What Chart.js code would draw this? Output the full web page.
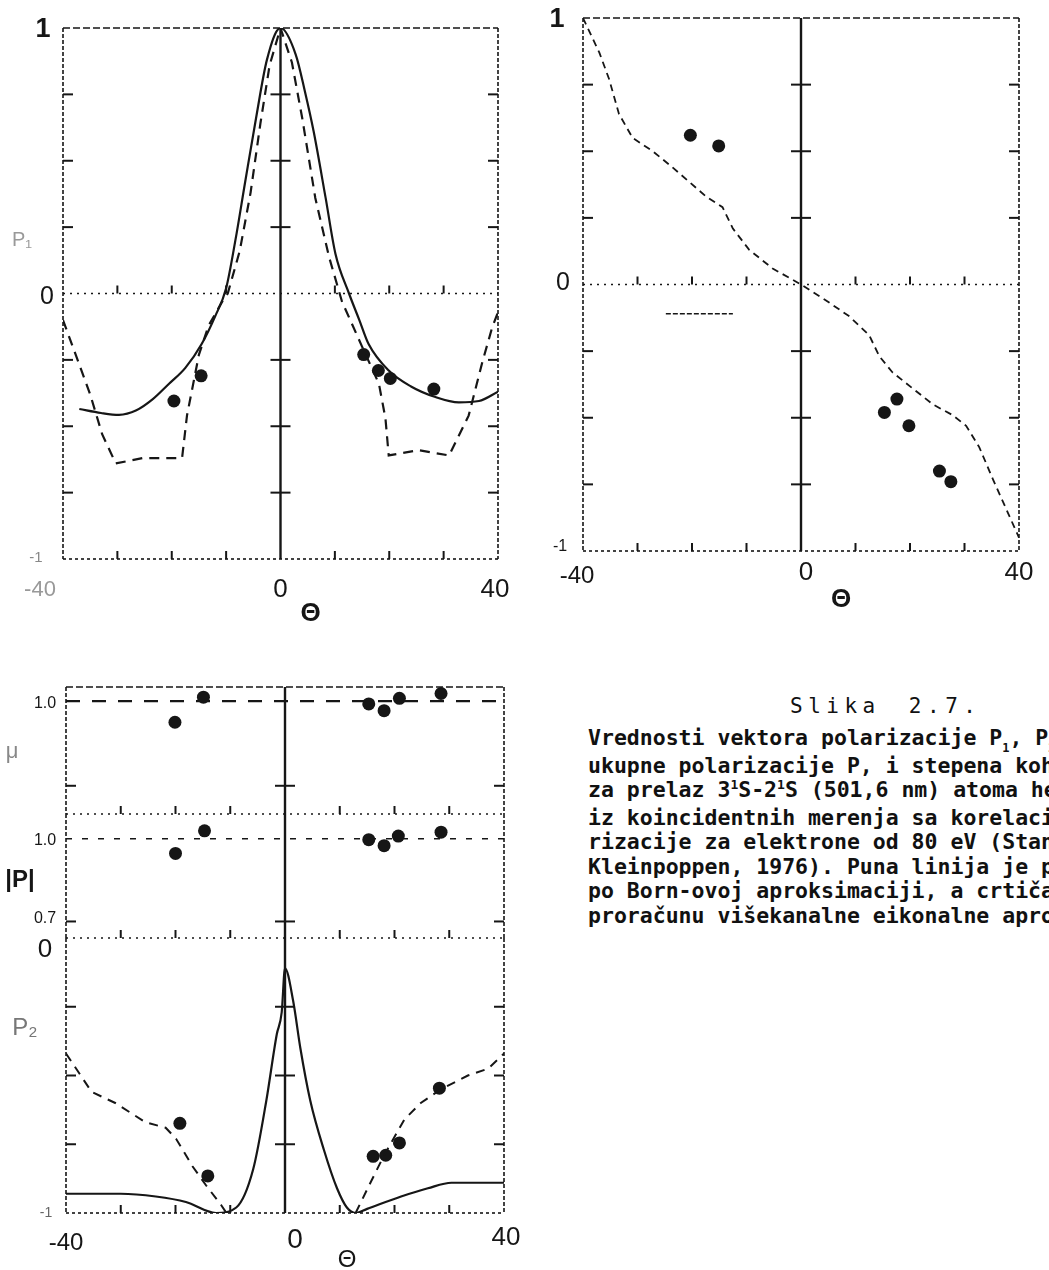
<!DOCTYPE html>
<html>
<head>
<meta charset="utf-8">
<script src="https://cdn.jsdelivr.net/npm/chart.js@4.4.0/dist/chart.umd.min.js"></script>
<style>
  body { margin: 0; background: #fff; width: 1049px; height: 1270px; overflow: hidden; position: relative; }
  canvas { position: absolute; }
  .caption { position: absolute; left: 588px; top: 726px; width: 461px; overflow: hidden;
    font: bold 21.5px "DejaVu Sans Mono", "Liberation Mono", monospace; line-height: 24.5px; color: #111; }
  .caption div { white-space: nowrap; }
  .caption sub { font-size: 12px; vertical-align: 0; position: relative; top: 7px; }
  .caption sup { font-size: 13px; vertical-align: 0; position: relative; top: -8px; }
  .slika { position: absolute; left: 790px; top: 694px; white-space: nowrap;
    font: 21px "DejaVu Sans Mono", "Liberation Mono", monospace; letter-spacing: 5.5px; word-spacing: 10px; color: #111; }
</style>
</head>
<body>
<canvas id="p1" width="530" height="640" style="left:0;top:0"></canvas>
<canvas id="p2" width="519" height="640" style="left:530px;top:0"></canvas>
<canvas id="p3mu" width="530" height="610" style="left:0;top:660px"></canvas>
<canvas id="p3abs" width="530" height="610" style="left:0;top:660px"></canvas>
<canvas id="p3p2" width="530" height="610" style="left:0;top:660px"></canvas>

<div class="slika">Slika 2.7.</div>
<div class="caption">
  <div>Vrednosti vektora polarizacije P<sub>1</sub>, P<sub>2</sub>,</div>
  <div>ukupne polarizacije P, i stepena koherencije</div>
  <div>za prelaz 3<sup>1</sup>S-2<sup>1</sup>S (501,6 nm) atoma helijuma</div>
  <div>iz koincidentnih merenja sa korelacijom pola-</div>
  <div>rizacije za elektrone od 80 eV (Standage i</div>
  <div>Kleinpoppen, 1976). Puna linija je proračun</div>
  <div>po Born-ovoj aproksimaciji, a crtičasta po</div>
  <div>proračunu višekanalne eikonalne aproksimacije.</div>
</div>

<script>
// values (theta in degrees)

// P1 panel, top left
const p1BornTheta = [-37, -33, -29.7, -26.5, -23.6, -20.5, -17.5, -14.5, -12, -10, -8.3, -6.5, -4.5, -2.5, 0,
                     2.8, 4.5, 6.1, 8.3, 10.1, 12.6, 14.5, 16.2, 19.9, 24, 28.5, 32.8, 36.5, 40];
const p1BornValues = [-0.435, -0.45, -0.457, -0.44, -0.40, -0.34, -0.28, -0.19, -0.085, 0.02, 0.2, 0.42, 0.66, 0.88, 1.0,
                      0.9, 0.76, 0.61, 0.36, 0.15, 0.0, -0.1, -0.19, -0.29, -0.35, -0.39, -0.41, -0.405, -0.37];
const p1EikTheta = [-40, -37.5, -35, -32.8, -30.3, -25.4, -18.1, -17.2, -15, -13.2, -10.7, -9.7, -7.5, -5.5, -3.7, -2, 0,
                    2.1, 4, 6.4, 8.9, 11.3, 15, 18.1, 19.3, 19.9, 25.4, 31, 34.6, 37.1, 38.9, 40];
const p1EikValues = [-0.10, -0.24, -0.38, -0.53, -0.64, -0.62, -0.62, -0.46, -0.23, -0.12, -0.03, 0.0, 0.16, 0.38, 0.64, 0.86, 1.0,
                     0.87, 0.66, 0.36, 0.14, -0.03, -0.2, -0.34, -0.47, -0.61, -0.59, -0.61, -0.46, -0.26, -0.13, -0.07];
const p1ExpTheta = [-19.6, -14.6, 15.3, 18, 20.2, 28.2];
const p1ExpValues = [-0.405, -0.31, -0.23, -0.29, -0.32, -0.36];

// P3 panel, top right
const p3EikTheta = [-40, -37, -35.2, -33.4, -30.9, -27.2, -23.6, -20.5, -17.4, -14.4, -12.5, -9.5, -5.2, 0,
                    4.6, 8.9, 12.5, 14.4, 16.8, 20.5, 24.2, 27.8, 30.3, 32.7, 35.2, 37.6, 40];
const p3EikValues = [1.0, 0.87, 0.77, 0.64, 0.55, 0.50, 0.44, 0.385, 0.33, 0.29, 0.21, 0.13, 0.06, 0.0,
                     -0.06, -0.12, -0.19, -0.27, -0.33, -0.39, -0.45, -0.49, -0.53, -0.61, -0.73, -0.84, -0.95];
const p3ExpTheta = [-20.3, -15.1, 15.3, 17.6, 19.8, 25.4, 27.5];
const p3ExpValues = [0.56, 0.52, -0.48, -0.43, -0.53, -0.70, -0.74];
const p3MarkTheta = [-24.8, -12.5];
const p3MarkValues = [-0.11, -0.11];

// bottom panel: mu, |P| and P2
const muTheoryTheta = [-40, 40];
const muTheoryValues = [1.0, 1.0];
const muExpTheta = [-20.1, -14.9, 15.3, 18.1, 20.9, 28.5];
const muExpValues = [0.925, 1.014, 0.99, 0.966, 1.01, 1.027];

const absPTheoryTheta = [-40, 40];
const absPTheoryValues = [1.0, 1.0];
const absPExpTheta = [-20, -14.7, 15.3, 18.1, 20.7, 28.5];
const absPExpValues = [0.947, 1.029, 0.997, 0.975, 1.01, 1.024];

const p2BornTheta = [-40, -30, -23.6, -18.1, -12.6, -8.9, -5.8, -3.4, -1.5, -0.6, 0, 1.5, 2.8, 4.6, 7.1, 9.5, 11.3, 12.9,
                     15, 21.2, 26.1, 30.4, 35, 40];
const p2BornValues = [-0.93, -0.93, -0.94, -0.96, -1.0, -0.98, -0.84, -0.59, -0.35, -0.27, -0.11, -0.23, -0.40, -0.59, -0.77, -0.91, -0.98, -1.0,
                      -0.985, -0.94, -0.91, -0.89, -0.89, -0.89];
const p2EikTheta = [-40, -35.3, -31, -25.5, -21.8, -19.9, -16.9, -14.4, -11.7, -10.7, 1,
                    12.9, 15.6, 18.1, 21.8, 24.8, 28.5, 33.4, 37.1, 40];
const p2EikValues = [-0.42, -0.56, -0.60, -0.67, -0.69, -0.73, -0.83, -0.90, -0.97, -1.0, null,
                     -1.0, -0.89, -0.79, -0.66, -0.60, -0.55, -0.50, -0.475, -0.42];
const p2ExpTheta = [-19.2, -14.1, 16.1, 18.4, 20.9, 28.2];
const p2ExpValues = [-0.674, -0.865, -0.794, -0.79, -0.745, -0.546];

const thetaTicks = [-30, -20, -10, 10, 20, 30];

const FONT = '"Liberation Sans", Arial, sans-serif';
const INK = '#161616';

function points(xs, ys) {
    return xs.map((x, i) => ({ x: x, y: ys[i] }));
}

function solidLine(xs, ys) {
    return { data: points(xs, ys), showLine: true, borderColor: INK, borderWidth: 2.2,
             pointRadius: 0, cubicInterpolationMode: 'monotone' };
}

function dashedLine(xs, ys, width, dash) {
    return { data: points(xs, ys), showLine: true, borderColor: INK, borderWidth: width || 2.2,
             borderDash: dash || [10, 7], pointRadius: 0, tension: 0 };
}

function dots(xs, ys) {
    return { data: points(xs, ys), showLine: false, pointRadius: 6.5, pointBackgroundColor: INK,
             pointBorderColor: INK, pointBorderWidth: 0, clip: false };
}

function stroke(ctx, x1, y1, x2, y2, width, dash) {
    ctx.beginPath();
    ctx.lineWidth = width;
    ctx.setLineDash(dash || []);
    ctx.moveTo(x1, y1);
    ctx.lineTo(x2, y2);
    ctx.stroke();
}

// draws the hand-made looking frame, centre axis, ticks and labels of the old figure
const paperAxes = {
    id: 'paperAxes',
    beforeDatasetsDraw(chart, args, o) {
        const { ctx, chartArea: a, scales: { x, y } } = chart;
        const x0 = x.getPixelForValue(0);
        ctx.save();
        ctx.strokeStyle = INK;

        stroke(ctx, a.left, a.top, a.left, a.bottom, 1.6, [4, 2]);
        stroke(ctx, a.right, a.top, a.right, a.bottom, 1.6, [4, 2]);
        if (o.top) stroke(ctx, a.left, a.top, a.right, a.top, 1.6, [7, 3]);
        stroke(ctx, x0, a.top, x0, a.bottom, 2.4);

        (o.yTicks || []).forEach(v => {
            const py = y.getPixelForValue(v);
            stroke(ctx, a.left, py, a.left + 10, py, 2);
            stroke(ctx, a.right - 10, py, a.right, py, 2);
            stroke(ctx, x0 - 10, py, x0 + 10, py, 2);
        });

        (o.baseLines || []).forEach(b => {
            const py = y.getPixelForValue(b.value);
            stroke(ctx, a.left, py, a.right, py, 1.6, b.dash);
            thetaTicks.forEach(t => {
                const px = x.getPixelForValue(t);
                stroke(ctx, px, py, px, py - 8, 2);
            });
        });
        ctx.restore();
    },
    afterDraw(chart, args, o) {
        const { ctx, chartArea: a, scales: { x, y } } = chart;
        ctx.save();
        ctx.textAlign = 'center';
        ctx.textBaseline = 'middle';
        (o.labels || []).forEach(l => {
            const px = (l.xv !== undefined ? x.getPixelForValue(l.xv) : a.left) + (l.dx || 0);
            const py = (l.yv !== undefined ? y.getPixelForValue(l.yv) : a.bottom) + (l.dy || 0);
            ctx.font = (l.weight || 'normal') + ' ' + l.size + 'px ' + FONT;
            ctx.fillStyle = l.color || INK;
            ctx.fillText(l.text, px, py);
        });
        ctx.restore();
    }
};

function makePanel(id, cfg) {
    return new Chart(document.getElementById(id), {
        type: 'scatter',
        data: { datasets: cfg.datasets },
        options: {
            responsive: false,
            animation: false,
            events: [],
            layout: { padding: cfg.padding },
            scales: {
                x: { type: 'linear', min: -40, max: 40, display: false },
                y: { type: 'linear', min: cfg.yMin, max: cfg.yMax, display: false }
            },
            plugins: {
                legend: { display: false },
                tooltip: { enabled: false },
                paperAxes: cfg.axes
            }
        },
        plugins: [paperAxes]
    });
}

makePanel('p1', {
    padding: { left: 63, right: 32, top: 28, bottom: 81 },
    yMin: -1, yMax: 1,
    datasets: [
        solidLine(p1BornTheta, p1BornValues),
        dashedLine(p1EikTheta, p1EikValues),
        dots(p1ExpTheta, p1ExpValues)
    ],
    axes: {
        top: true,
        yTicks: [0.75, 0.5, 0.25, -0.25, -0.5, -0.75],
        baseLines: [{ value: 0, dash: [2, 5] }, { value: -1, dash: [3, 3] }],
        labels: [
            { text: '1', yv: 1, dx: -20, dy: 2, size: 27, weight: 'bold' },
            { text: '0', yv: 0, dx: -16, dy: 4, size: 25 },
            { text: '-1', yv: -1, dx: -27, dy: -1, size: 15, color: '#888' },
            { text: 'P₁', yv: 0.2, dx: -41, size: 20, color: '#999' },
            { text: '-40', xv: -40, dx: -23, dy: 31, size: 22, color: '#999' },
            { text: '0', xv: 0, dy: 31, size: 26 },
            { text: '40', xv: 40, dx: -3, dy: 31, size: 26 },
            { text: 'Θ', xv: 0, dx: 30, dy: 55, size: 26, weight: 'bold' }
        ]
    }
});

makePanel('p2', {
    padding: { left: 53, right: 30, top: 18, bottom: 89 },
    yMin: -1, yMax: 1,
    datasets: [
        dashedLine(p3EikTheta, p3EikValues, 1.8, [7, 5]),
        dashedLine(p3MarkTheta, p3MarkValues, 1.5, [5, 2]),
        dots(p3ExpTheta, p3ExpValues)
    ],
    axes: {
        top: true,
        yTicks: [0.75, 0.5, 0.25, -0.25, -0.5, -0.75],
        baseLines: [{ value: 0, dash: [2, 5] }, { value: -1, dash: [3, 3] }],
        labels: [
            { text: '1', yv: 1, dx: -26, dy: 2, size: 27, weight: 'bold' },
            { text: '0', yv: 0, dx: -20, dy: -1, size: 25 },
            { text: '-1', yv: -1, dx: -23, dy: -4, size: 16 },
            { text: '-40', xv: -40, dx: -6, dy: 25, size: 24 },
            { text: '0', xv: 0, dx: 5, dy: 22, size: 26 },
            { text: '40', xv: 40, dy: 22, size: 26 },
            { text: 'Θ', xv: 0, dx: 40, dy: 49, size: 26, weight: 'bold' }
        ]
    }
});

makePanel('p3mu', {
    padding: { left: 66, right: 26, top: 27, bottom: 456 },
    yMin: 0.6, yMax: 1.05,
    datasets: [
        dashedLine(muTheoryTheta, muTheoryValues, 2.2, [14, 12]),
        dots(muExpTheta, muExpValues)
    ],
    axes: {
        top: true,
        yTicks: [0.7],
        baseLines: [{ value: 0.6, dash: [2, 5] }],
        labels: [
            { text: '1.0', yv: 1, dx: -21, dy: 2, size: 16 },
            { text: 'μ', yv: 0.82, dx: -54, size: 22, color: '#888' }
        ]
    }
});

makePanel('p3abs', {
    padding: { left: 66, right: 26, top: 154, bottom: 332 },
    yMin: 0.64, yMax: 1.09,
    datasets: [
        dashedLine(absPTheoryTheta, absPTheoryValues, 1.6, [6, 10]),
        dots(absPExpTheta, absPExpValues)
    ],
    axes: {
        yTicks: [0.7],
        labels: [
            { text: '1.0', yv: 1, dx: -21, dy: 2, size: 16 },
            { text: '0.7', yv: 0.7, dx: -21, dy: -3, size: 16 },
            { text: '|P|', yv: 0.85, dx: -46, size: 24, weight: 'bold' }
        ]
    }
});

makePanel('p3p2', {
    padding: { left: 66, right: 26, top: 278, bottom: 57 },
    yMin: -1, yMax: 0,
    datasets: [
        solidLine(p2BornTheta, p2BornValues),
        dashedLine(p2EikTheta, p2EikValues, 2, [9, 7]),
        dots(p2ExpTheta, p2ExpValues)
    ],
    axes: {
        yTicks: [-0.25, -0.5, -0.75],
        baseLines: [{ value: 0, dash: [2, 5] }, { value: -1, dash: [3, 3] }],
        labels: [
            { text: '0', yv: 0, dx: -21, dy: 12, size: 26 },
            { text: 'P₂', yv: -0.33, dx: -41, size: 24, color: '#777' },
            { text: '-1', yv: -1, dx: -20, size: 14, color: '#666' },
            { text: '-40', xv: -40, dy: 30, size: 24 },
            { text: '0', xv: 0, dx: 10, dy: 27, size: 28 },
            { text: '40', xv: 40, dx: 2, dy: 25, size: 26 },
            { text: 'Θ', xv: 0, dx: 62, dy: 47, size: 24 }
        ]
    }
});
</script>
</body>
</html>
